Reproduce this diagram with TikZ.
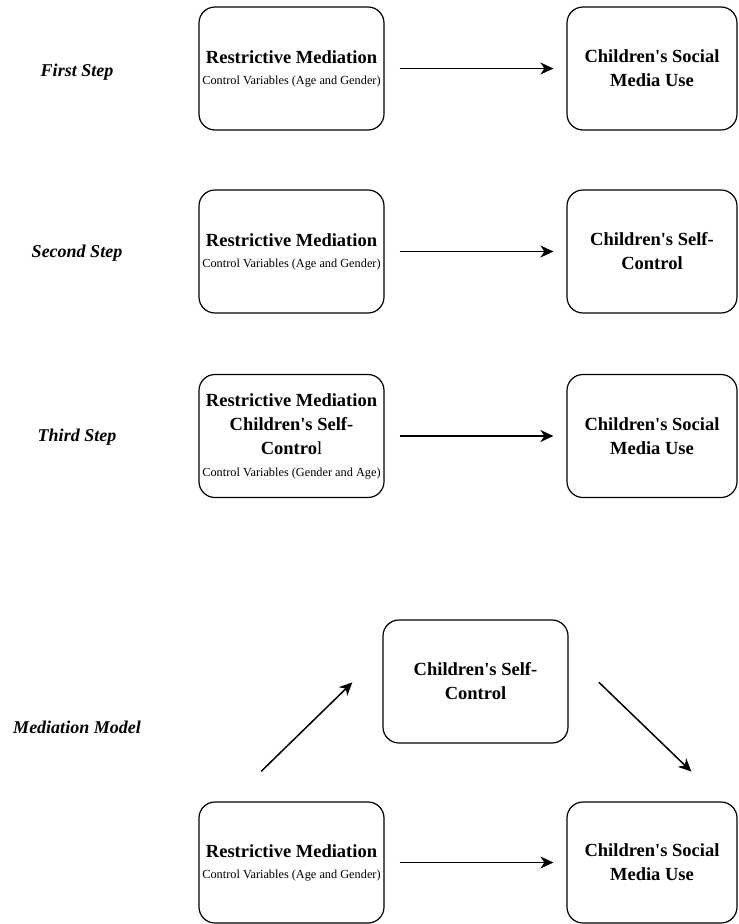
\documentclass[tikz,border=0pt]{standalone}
\usepackage{fontspec}
\setmainfont{Liberation Serif}
\usetikzlibrary{arrows.meta}
\newcommand{\ctrl}[1]{{\fontsize{12.3}{15}\selectfont\mdseries #1}}
\newcommand{\ap}{\textquotesingle}
\begin{document}
\begin{tikzpicture}[x=1pt,y=-1pt,
  box/.style={draw,line width=1.2pt,rounded corners=16pt,minimum height=123pt,inner sep=2pt,
    align=center,font=\fontsize{18.5}{24}\selectfont\bfseries},
  lbox/.style={box,minimum width=185pt},
  rbox/.style={box,minimum width=170pt},
  arr/.style={-{Stealth[length=13pt,width=12pt,inset=4pt]},line width=1.5pt},
  lbl/.style={font=\fontsize{18}{22}\selectfont\bfseries\itshape}]
\useasboundingbox(0,0)rectangle(739,924);
% step labels
\foreach \t/\y/\n in{First Step/72/l1,Second Step/253/l2,Third Step/437/l3,Mediation Model/727/l4}
\node[lbl](\n)at(77,\y){\t};
% first step
\node[lbox](rm1)at(291.5,68.5){Restrictive Mediation\\[-3pt]\ctrl{Control Variables (Age and Gender)}};
\node[rbox](smu1)at(652,68.5){Children\ap s Social\\Media Use};
% second step
\node[lbox](rm2)at(291.5,251.5){Restrictive Mediation\\[-3pt]\ctrl{Control Variables (Age and Gender)}};
\node[rbox](sc2)at(652,251.5){Children\ap s Self-\\Control};
% third step
\node[lbox](rm3)at(291.5,436){Restrictive Mediation\\Children\ap s Self-\\Contro{\mdseries l}\\[-2pt]\ctrl{Control Variables (Gender and Age)}};
\node[rbox](smu3)at(652,436){Children\ap s Social\\Media Use};
% mediation model
\node[lbox](sc)at(475.5,681.5){Children\ap s Self-\\Control};
\node[lbox,minimum height=121pt](rm4)at(291.5,862.5){Restrictive Mediation\\[-3pt]\ctrl{Control Variables (Age and Gender)}};
\node[rbox,minimum height=121pt](smu4)at(652,862.5){Children\ap s Social\\Media Use};
\foreach \a/\b in{rm1/smu1,rm2/sc2,rm3/smu3,rm4/smu4}
\draw[arr,shorten <=15pt,shorten >=13pt](\a)--(\b);
\draw[arr,shorten <=43pt,shorten >=42pt](rm4.135)--(sc.163);
\draw[arr,shorten <=42pt,shorten >=43pt](sc.17)--(smu4.41);
\end{tikzpicture}
\end{document}
